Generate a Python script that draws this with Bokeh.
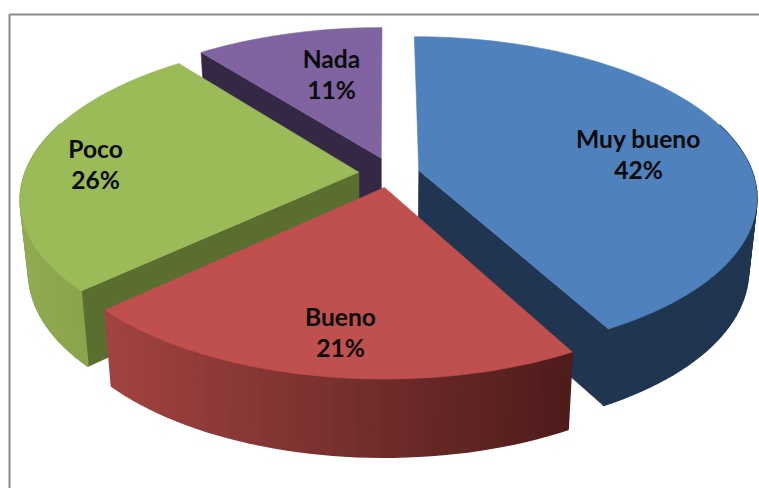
import math
from bokeh.embed import file_html
from bokeh.models import ColumnDataSource, Range1d
from bokeh.plotting import figure
from bokeh.resources import INLINE
from bokeh.core.properties import value

categories = ["Muy bueno", "Bueno", "Poco", "Nada"]
shares = [42.1, 21, 26.3, 10.6]
percent_labels = ["42%", "21%", "26%", "11%"]

top_colors = ["#4f81bd", "#c0504d", "#9bbb59", "#8064a2"]
radial_colors = ["#1f3550", "#4d1c1b", "#5a6f2f", "#342845"]
rim_left = ["#1f3550", "#a24341", "#90ab52", "#342845"]
rim_right = ["#1f3550", "#4d1c1b", "#7d9a40", "#342845"]
explode = [(0.097, -0.02), (-0.006, 0.088), (-0.083, -0.008), (-0.016, -0.1)]
label_xy = [(638, 137.5), (340, 315.5), (95, 147.5), (331, 57.5)]
draw_order = [3, 0, 2, 1]

CX, CY, RX, RY, K = 386, 173, 334, 156, 0.16
D0, DK, SHRINK = 72, 0.03, 0.977


def project(wx, wy):
    s = 1 / (1 - K * wy)
    return CX + RX * wx * s, CY + RY * wy * s


def lower(x, y):
    return CX + (x - CX) * SHRINK, y + D0 + DK * (y - CY)


def mix(a, b, f):
    ca = [int(a[i:i + 2], 16) for i in (1, 3, 5)]
    cb = [int(b[i:i + 2], 16) for i in (1, 3, 5)]
    return "#%02x%02x%02x" % tuple(round(u + (v - u) * f) for u, v in zip(ca, cb))


total = sum(shares)
starts, acc = [], 0
for v in shares:
    starts.append(acc / total * 2 * math.pi)
    acc += v

xs, ys, fills, widths = [], [], [], []


def add(px, py, color, w=0.6):
    xs.append(px)
    ys.append(py)
    fills.append(color)
    widths.append(w)


for i in draw_order:
    t0 = starts[i]
    t1 = t0 + shares[i] / total * 2 * math.pi
    ex, ey = explode[i]
    n = max(8, int(shares[i] * 2))
    angles = [t0 + (t1 - t0) * j / n for j in range(n + 1)]
    arc = [project(ex + math.sin(t), ey - math.cos(t)) for t in angles]
    apex = project(ex, ey)
    a_low = lower(*apex)
    # only radial walls that face the viewer
    if -math.sin(t0) > 0.01:
        c_low = lower(*arc[0])
        add([apex[0], arc[0][0], c_low[0], a_low[0]],
            [apex[1], arc[0][1], c_low[1], a_low[1]], radial_colors[i])
    if math.sin(t1) > 0.01:
        c_low = lower(*arc[-1])
        add([apex[0], arc[-1][0], c_low[0], a_low[0]],
            [apex[1], arc[-1][1], c_low[1], a_low[1]], radial_colors[i])
    xmin = min(q[0] for q in arc)
    xmax = max(q[0] for q in arc)
    for j in range(n):
        if math.cos(angles[j]) > 0.3 and math.cos(angles[j + 1]) > 0.3:
            continue  # back of the rim is hidden by the top face
        a, b = arc[j], arc[j + 1]
        la, lb = lower(*a), lower(*b)
        f = ((a[0] + b[0]) / 2 - xmin) / (xmax - xmin)
        add([a[0], b[0], lb[0], la[0]], [a[1], b[1], lb[1], la[1]],
            mix(rim_left[i], rim_right[i], f), 1.6)
    add([apex[0]] + [q[0] for q in arc], [apex[1]] + [q[1] for q in arc], top_colors[i])

p = figure(width=759, height=488, x_range=Range1d(0, 759), y_range=Range1d(488, 0),
           x_axis_type=None, y_axis_type=None, toolbar_location=None,
           output_backend="svg", min_border=0, outline_line_color=None)
p.grid.visible = False

p.line([9, 9, 759], [488, 14, 14], line_color="#8c8c8c", line_width=2)
p.patches("xs", "ys", fill_color="c", line_color="c", line_width="w",
          source=ColumnDataSource(dict(xs=xs, ys=ys, c=fills, w=widths)))

src = ColumnDataSource(dict(
    x=[q[0] for q in label_xy] * 2,
    y=[q[1] for q in label_xy] + [q[1] + 31 for q in label_xy],
    t=categories + percent_labels))
p.text("x", "y", "t", source=src, text_font=value("Lato"), text_font_style="bold",
       text_font_size="24.6px", text_align="center", text_baseline="middle", text_color="#0a0a0a")

open("out.html", "w").write(file_html(p, INLINE))
